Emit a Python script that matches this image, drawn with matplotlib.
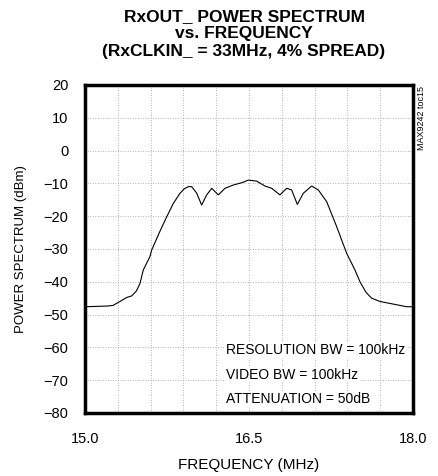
import matplotlib

matplotlib.use("Agg")
import matplotlib.pyplot as plt
from matplotlib.ticker import MultipleLocator

plt.rcParams["font.family"] = ["Liberation Sans", "DejaVu Sans"]

# spectrum trace
freq_mhz = [15.0, 15.10, 15.20, 15.256, 15.32, 15.38, 15.427, 15.47, 15.503, 15.533,
            15.594, 15.61, 15.68, 15.747, 15.808, 15.869, 15.91, 15.945, 15.976,
            16.022, 16.067, 16.113, 16.159, 16.219, 16.28, 16.356, 16.433, 16.494,
            16.570, 16.646, 16.708, 16.783, 16.845, 16.890, 16.942, 16.997, 17.073,
            17.134, 17.211, 17.302, 17.393, 17.469, 17.515, 17.57, 17.622, 17.698,
            17.820, 17.942, 18.0]
power_dbm = [-47.6, -47.5, -47.4, -47.2, -46.0, -44.8, -44.3, -42.8, -40.5, -36.4,
             -32.3, -30.3, -25.0, -20.2, -16.1, -13.0, -11.6, -11.0, -11.0,
             -13.0, -16.6, -13.5, -11.5, -13.5, -11.5, -10.5, -9.8, -9.0,
             -9.3, -10.8, -11.5, -13.5, -11.5, -12.0, -16.4, -13.0, -10.8,
             -12.0, -15.6, -23.2, -31.3, -36.4, -40.0, -43.2, -45.0, -46.0,
             -46.8, -47.6, -47.6]

x_ticks = [15.0, 16.5, 18.0]
y_ticks = list(range(-80, 21, 10))
notes = ["RESOLUTION BW = 100kHz", "VIDEO BW = 100kHz", "ATTENUATION = 50dB"]

fig = plt.figure(figsize=(4.38, 4.76), dpi=100)
ax = fig.add_axes([85 / 438, 1 - 413 / 476, 328 / 438, 328 / 476])

ax.plot(freq_mhz, power_dbm, color="black", lw=0.8)
ax.set_xlim(15.0, 18.0)
ax.set_ylim(-80, 20)
ax.set_xticks(x_ticks)
ax.set_xticklabels([f"{v:.1f}" for v in x_ticks])
ax.set_yticks(y_ticks)
ax.xaxis.set_minor_locator(MultipleLocator(0.3))
ax.tick_params(which="both", length=0, labelsize=10.5)
ax.tick_params(axis="x", pad=14)
ax.tick_params(axis="y", pad=12)
ax.grid(True, which="both", color="#999999", ls=(0, (1, 2)), lw=0.6)
for spine in ax.spines.values():
    spine.set_linewidth(2.5)

ax.set_xlabel("FREQUENCY (MHz)", fontsize=11, labelpad=8)
ax.set_ylabel("POWER SPECTRUM (dBm)", fontsize=9.5, labelpad=12)

fig.text(244 / 438, 1 - 9 / 476,
         "RxOUT_ POWER SPECTRUM\nvs. FREQUENCY\n(RxCLKIN_ = 33MHz, 4% SPREAD)",
         ha="center", va="top", fontsize=12.5, fontweight="bold", linespacing=1.2)

for i, line in enumerate(notes):
    ax.text(16.29, -60.8 - 7.5 * i, line, ha="left", va="center", fontsize=10,
            bbox=dict(facecolor="white", edgecolor="none", pad=0.5))

fig.text(422 / 438, 1 - 86 / 476, "MAX9242 toc15", rotation=90, ha="center",
         va="top", fontsize=6.5)

fig.savefig("out.png", dpi=100)
